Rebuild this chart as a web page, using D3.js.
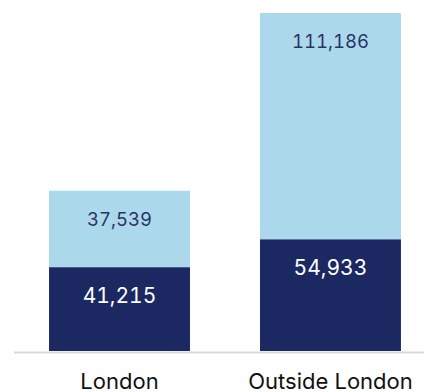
<!DOCTYPE html>
<html>
<head>
<meta charset="utf-8">
<script src="https://cdn.jsdelivr.net/npm/d3@7"></script>
<style>
  html, body { margin: 0; padding: 0; background: #fff; }
  svg { display: block; }
  text { font-family: "Inter", "Lato", sans-serif; }
  .value { font-variant-numeric: tabular-nums; font-feature-settings: "tnum" 1; }
</style>
</head>
<body>
<svg id="chart" width="424" height="392"></svg>
<script>
// Stacked counts per region
const categories = ["London", "Outside London"];
const lowerValues = [41215, 54933];
const upperValues = [37539, 111186];
const seriesNames = ["lower", "upper"];

const chartWidth = 424, chartHeight = 392;
const baselineY = 351, plotTopY = 13;

const svg = d3.select("#chart");

const rows = categories.map((c, i) => ({ category: c, lower: lowerValues[i], upper: upperValues[i] }));
const stacked = d3.stack().keys(seriesNames)(rows);

const x = d3.scaleBand()
  .domain(categories)
  .range([14, chartWidth])
  .paddingInner(0.332)
  .paddingOuter(0.1377)
  .align(0.603);

const y = d3.scaleLinear()
  .domain([0, d3.max(rows, d => d.lower + d.upper)])
  .range([baselineY, plotTopY]);

const fills = { lower: "#1b2862", upper: "#acd8ec" };
const labelColors = { lower: "#ffffff", upper: "#2a3365" };
const fmt = d3.format(",");

const layers = svg.selectAll("g.layer")
  .data(stacked)
  .join("g")
  .attr("class", "layer");

layers.selectAll("rect")
  .data(s => s.map(d => ({ key: s.key, d })))
  .join("rect")
  .attr("x", e => x(e.d.data.category))
  .attr("width", x.bandwidth())
  .attr("y", e => y(e.d[1]))
  .attr("height", e => y(e.d[0]) - y(e.d[1]))
  .attr("fill", e => fills[e.key]);

layers.selectAll("text")
  .data(s => s.map(d => ({ key: s.key, d })))
  .join("text")
  .attr("class", "value")
  .attr("x", e => x(e.d.data.category) + x.bandwidth() / 2)
  .attr("y", e => y(e.d[1]) + 28)
  .attr("text-anchor", "middle")
  .attr("dominant-baseline", "central")
  .attr("font-size", e => e.key === "lower" ? 21 : 18.5)
  .attr("fill", e => labelColors[e.key])
  .text(e => fmt(e.d.data[e.key]));

// Baseline axis
const axis = svg.append("g")
  .attr("transform", `translate(0,${baselineY})`)
  .call(d3.axisBottom(x).tickSize(0).tickPadding(0));
axis.select(".domain")
  .attr("d", `M14,1.5H${chartWidth}`)
  .attr("stroke", "#d9d9d9")
  .attr("stroke-width", 2);
axis.selectAll(".tick text")
  .attr("y", 38)
  .attr("dy", 0)
  .attr("font-size", 22)
  .attr("fill", "#111")
  .attr("font-family", "Inter, Lato, sans-serif");
</script>
</body>
</html>
